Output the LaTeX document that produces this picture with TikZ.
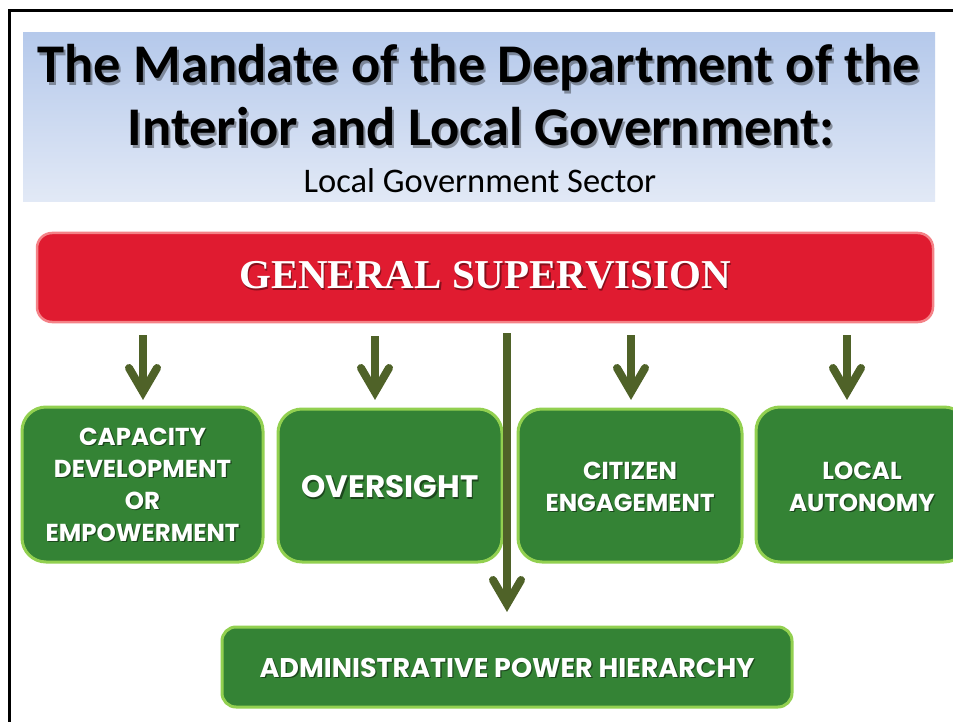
\documentclass[tikz,border=0pt]{standalone}
\usepackage{fontspec}
\setmainfont{Carlito}
\newfontfamily\popfont{Poppins}
\newfontfamily\serfont{Liberation Serif}
\usetikzlibrary{calc}
\definecolor{redfill}{RGB}{224,27,48}
\definecolor{redline}{RGB}{244,130,135}
\definecolor{grfill}{RGB}{52,131,53}
\definecolor{grline}{RGB}{146,208,80}
\definecolor{arrowc}{RGB}{79,98,40}
\definecolor{bandtop}{RGB}{181,201,235}
\definecolor{bandbot}{RGB}{226,233,246}
\begin{document}
\begin{tikzpicture}[x=1pt,y=-1pt,
  gbox/.style={draw=grline, fill=grfill, line width=3pt, rounded corners=24pt, inner sep=0pt},
  gtext/.style={text=white, inner sep=0pt, align=center, font=\popfont\bfseries\fontsize{24.5}{32}\selectfont},
  gshadow/.style={gtext, text=black, opacity=0.45},
  ttl/.style={anchor=base, inner sep=0pt, font=\bfseries\fontsize{54.5}{60}\selectfont},
  ttlshadow/.style={ttl, text=black, opacity=0.35},
  shaft/.style={draw=arrowc, line width=8pt},
  barb/.style={draw=arrowc, line width=8pt, line cap=round, line join=miter}
]
\useasboundingbox (0,0) rectangle (953,722);
\clip (0,0) rectangle (953,722);
\fill[white] (0,0) rectangle (953,722);
% frame
\draw[line width=3pt] (9,11) rectangle (1100,900);
% title band
\shade[top color=bandtop, bottom color=bandbot] (23,33) rectangle (935,202);
\node[ttlshadow] (t1s) at (481,85.5) {The Mandate of the Department of the};
\node[ttl] (t1) at (479,83) {The Mandate of the Department of the};
\node[ttlshadow] (t2s) at (483,148.5) {Interior and Local Government:};
\node[ttl] (t2) at (481,146) {Interior and Local Government:};
\node[anchor=base, inner sep=0pt, font=\fontsize{34.5}{40}\selectfont] (t3) at (480,193) {Local Government Sector};
% red box
\node[draw=redline, fill=redfill, line width=2.5pt, rounded corners=15pt,
      minimum width=896pt, minimum height=89pt, inner sep=0pt] (gs) at (485,277.5) {};
\node[text=black, opacity=0.4, inner sep=0pt, font=\serfont\bfseries\fontsize{41}{45}\selectfont] (gss) at (486.5,277) {GENERAL SUPERVISION};
\node[text=white, inner sep=0pt, font=\serfont\bfseries\fontsize{41}{45}\selectfont] (gst) at (485,275.5) {GENERAL SUPERVISION};
% green boxes
\node[gbox, minimum width=241pt, minimum height=155pt] (b1) at (142.5,484.5) {};
\node[gbox, minimum width=224pt, minimum height=153pt] (b2) at (390,485.5) {};
\node[gbox, minimum width=224pt, minimum height=153pt] (b3) at (630,485.5) {};
\node[gbox, minimum width=212pt, minimum height=155pt] (b4) at (862,484.5) {};
\node[gbox, rounded corners=14pt, minimum width=570pt, minimum height=80pt] (b5) at (507,667) {};
% texts
\node[gshadow] (b1s) at ($(b1)+(1.3,1.3)$) {CAPACITY\\DEVELOPMENT\\OR\\EMPOWERMENT};
\node[gtext] (b1t) at (b1) {CAPACITY\\DEVELOPMENT\\OR\\EMPOWERMENT};
\node[gshadow, font=\popfont\bfseries\fontsize{31}{36}\selectfont] (b2s) at ($(b2)+(1.3,2.8)$) {OVERSIGHT};
\node[gtext, font=\popfont\bfseries\fontsize{31}{36}\selectfont] (b2t) at ($(b2)+(0,1.5)$) {OVERSIGHT};
\node[gshadow] (b3s) at ($(b3)+(1.3,2.8)$) {CITIZEN\\ENGAGEMENT};
\node[gtext] (b3t) at ($(b3)+(0,1.5)$) {CITIZEN\\ENGAGEMENT};
\node[gshadow] (b4s) at ($(b4)+(1.3,3.8)$) {LOCAL\\AUTONOMY};
\node[gtext] (b4t) at ($(b4)+(0,2.5)$) {LOCAL\\AUTONOMY};
\node[gshadow, font=\popfont\bfseries\fontsize{27}{32}\selectfont] (b5s) at ($(b5)+(1.3,2.3)$) {ADMINISTRATIVE POWER HIERARCHY};
\node[gtext, font=\popfont\bfseries\fontsize{27}{32}\selectfont] (b5t) at ($(b5)+(0,1)$) {ADMINISTRATIVE POWER HIERARCHY};
% arrow coordinates
\coordinate (s1) at (143,335); \coordinate (e1) at (143,400);
\coordinate (s2) at (375,336); \coordinate (e2) at (375,400);
\coordinate (s3) at (631,335); \coordinate (e3) at (631,400);
\coordinate (s4) at (847,335); \coordinate (e4) at (847,400);
\coordinate (s5) at (507,333); \coordinate (e5) at (507,612);
\foreach \i in {1,...,5}{
  \draw[shaft] (s\i) -- ($(e\i)+(0,-8)$);
  \draw[barb] ($(e\i)+(-14,-32)$) -- ($(e\i)+(0,-8)$) -- ($(e\i)+(14,-32)$);
}
\end{tikzpicture}
\end{document}
